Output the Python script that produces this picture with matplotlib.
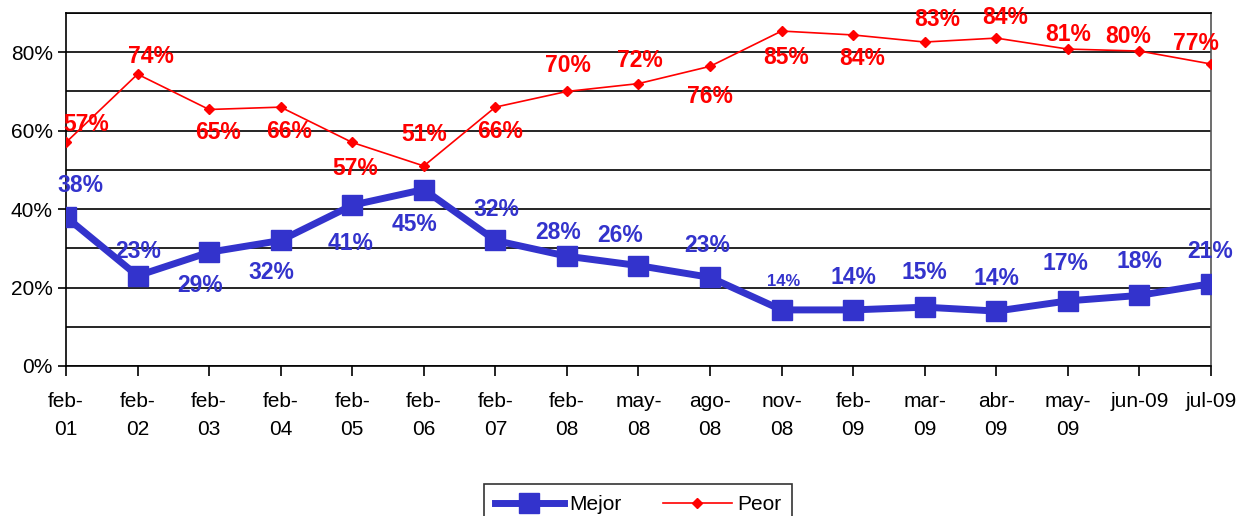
import matplotlib
matplotlib.use("Agg")
import matplotlib.pyplot as plt
import matplotlib.ticker as mticker

plt.rcParams['font.family'] = ['Liberation Sans', 'DejaVu Sans']

periodos = ['feb-\n01', 'feb-\n02', 'feb-\n03', 'feb-\n04', 'feb-\n05', 'feb-\n06',
            'feb-\n07', 'feb-\n08', 'may-\n08', 'ago-\n08', 'nov-\n08', 'feb-\n09',
            'mar-\n09', 'abr-\n09', 'may-\n09', 'jun-09', 'jul-09']
mejor = [38, 23, 29, 32, 41, 45, 32, 28, 25.6, 22.6, 14.3, 14.3, 15, 14, 16.6, 18, 21]
peor = [57, 74.4, 65.4, 66, 57, 51, 66, 70, 72, 76.4, 85.4, 84.4, 82.6, 83.6, 80.8, 80.3, 77]

# label offsets in pixels (dx, dy), hand placed like the original
off_mejor = [(14, 31), (1, 24), (-9, -33), (-9, -32), (-2, -38), (-9, -35), (1, 31),
             (-9, 24), (-18, 30), (-3, 32), (2, 28), (0, 32), (0, 35), (0, 33),
             (-2, 37), (0, 34), (-1, 32)]
off_peor = [(20, 18), (13, 18), (9, -23), (8, -24), (3, -26), (0, 31), (5, -24),
            (1, 26), (1, 23), (0, -30), (5, -26), (9, -24), (13, 23), (9, 21),
            (0, 15), (-11, 15), (-15, 20)]

azul = '#3333CC'
rojo = '#FF0000'

fig = plt.figure(figsize=(12.4, 5.16), dpi=100)
ax = fig.add_axes([0.0532, 0.2907, 0.9234, 0.6841])

x = list(range(len(periodos)))
ax.plot(x, mejor, color=azul, linewidth=5, marker='s', markersize=14,
        label='Mejor', zorder=3)
ax.plot(x, peor, color=rojo, linewidth=1.2, marker='D', markersize=5.5,
        label='Peor', zorder=3)

for i in x:
    fs = 12 if i == 10 else 16.5
    ax.annotate(f'{mejor[i]:.0f}%', (i, mejor[i]), xytext=off_mejor[i],
                textcoords='offset pixels', ha='center', va='center',
                color=azul, fontsize=fs, fontweight='bold', zorder=4)
    ax.annotate(f'{peor[i]:.0f}%', (i, peor[i]), xytext=off_peor[i],
                textcoords='offset pixels', ha='center', va='center',
                color=rojo, fontsize=16.5, fontweight='bold', zorder=4)

ax.set_xlim(0, len(periodos) - 1)
ax.set_ylim(0, 90)
ax.set_xticks(x)
ax.set_xticklabels(periodos, fontsize=15, linespacing=1.6)
ax.yaxis.set_major_locator(mticker.MultipleLocator(20))
ax.yaxis.set_minor_locator(mticker.MultipleLocator(10))
ax.yaxis.set_major_formatter(mticker.FuncFormatter(lambda v, p: f'{v:.0f}%'))
ax.tick_params(axis='y', which='major', labelsize=15, length=6, width=1.2)
ax.tick_params(axis='y', which='minor', length=0)
ax.tick_params(axis='x', length=7, width=1.2, pad=12)
ax.grid(True, axis='y', which='both', color='black', linewidth=1.2)
ax.set_axisbelow(True)

for s in ax.spines.values():
    s.set_linewidth(1.2)
    s.set_color('black')
ax.spines['right'].set_color('#555555')

leg = fig.legend(loc='upper center', bbox_to_anchor=(0.5145, 0.062), ncol=2,
                 fontsize=15, frameon=True, fancybox=False, edgecolor='black',
                 handlelength=3.3, handletextpad=0.25, columnspacing=2.0,
                 borderpad=0.55, borderaxespad=0)
leg.get_frame().set_linewidth(1.2)

fig.savefig('out.png', dpi=100)
